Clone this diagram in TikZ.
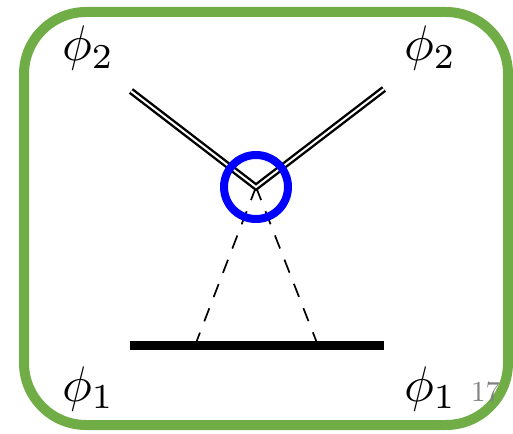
\documentclass[tikz,border=0pt]{standalone}
\definecolor{framegreen}{RGB}{112,173,71}
\definecolor{pagegray}{RGB}{128,128,128}
\tikzset{
  lbl/.style={anchor=base west, inner sep=0pt, outer sep=0pt, scale=5},
  pagenum/.style={anchor=base west, inner sep=0pt, outer sep=0pt, scale=2.9, text=pagegray},
  dbl/.style={line width=2.4pt, double=white, double distance=2pt, line join=miter},
  dsh/.style={line width=1.7pt, dash pattern=on 14pt off 12pt},
  bar/.style={line width=9pt},
  ring/.style={circle, draw=blue, line width=8pt, minimum size=64pt, inner sep=0pt},
  frame/.style={draw=framegreen, line width=10pt, rounded corners=62pt}
}
\begin{document}
\begin{tikzpicture}[x=1pt, y=-1pt]
  \useasboundingbox (0,0) rectangle (513,433);
  \draw[frame] (24,12) rectangle (508,425);
  % labels
  \node[lbl] (tl) at (62,61) {$\phi_2$};
  \node[lbl] (tr) at (404,61) {$\phi_2$};
  \node[lbl] (bl) at (62,401) {$\phi_1$};
  \node[lbl] (br) at (404,401) {$\phi_1$};
  \node[pagenum] (pg) at (471,401) {17};
  % coordinates
  \coordinate (v) at (256,187);
  \coordinate (a) at (131,91);
  \coordinate (b) at (384,89);
  \coordinate (b1) at (130,345.5);
  \coordinate (b2) at (384,345.5);
  \coordinate (d1) at (195,345.5);
  \coordinate (d2) at (318,345.5);
  % lines
  \draw[dsh] (v) -- (d1);
  \draw[dsh] (v) -- (d2);
  \draw[bar] (b1) -- (b2);
  \draw[dbl] (a) -- (v) -- (b);
  \node[ring] (circ) at (v) {};
\end{tikzpicture}
\end{document}
